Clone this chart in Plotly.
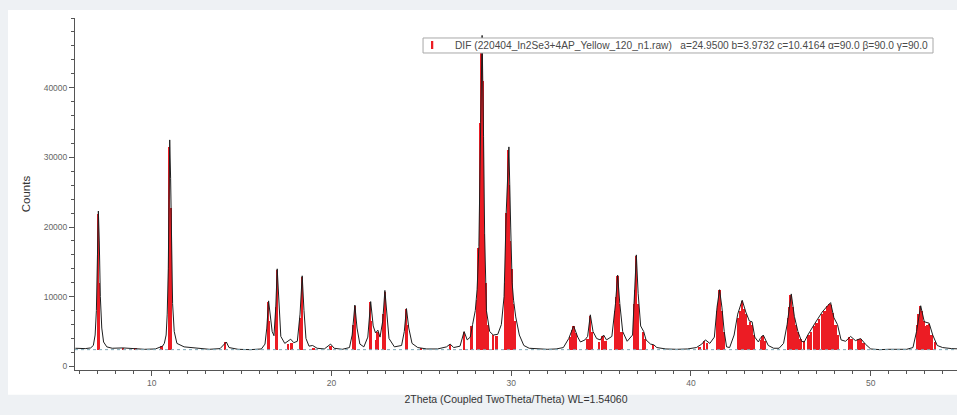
import plotly.graph_objects as go

# Measured diffraction pattern (2theta in degrees, counts)
two_theta = [
    5.75, 6.3, 6.6, 6.75, 6.85, 6.92, 6.98, 7.03, 7.08, 7.14, 7.22, 7.32, 7.5, 7.8, 8.4, 9.0, 9.6,
    10.2, 10.5, 10.6, 10.7, 10.8, 10.86, 10.92, 10.96, 11.0, 11.05, 11.1, 11.16, 11.25, 11.4, 11.8,
    12.5, 13.2, 13.8, 14.05, 14.15, 14.3, 14.8, 15.5, 16.1, 16.3, 16.4, 16.5, 16.6,
    16.7, 16.8, 16.9, 16.98, 17.07, 17.18, 17.4, 17.6, 17.73, 17.9, 18.1, 18.25,
    18.37, 18.47, 18.58, 18.75, 18.95, 19.2, 19.6, 19.95, 20.15, 20.6, 21.0, 21.15,
    21.3, 21.42, 21.58, 21.8, 22.02, 22.18, 22.32, 22.45, 22.58, 22.7, 22.85, 22.97,
    23.07, 23.2, 23.5, 23.9, 24.05, 24.17, 24.3, 24.48, 24.8, 25.3, 25.9, 26.4,
    26.6, 26.8, 27.15, 27.38, 27.55, 27.72, 27.85, 28.0, 28.1, 28.2, 28.3, 28.38,
    28.46, 28.52, 28.62, 28.8, 29.0, 29.25, 29.45, 29.6, 29.72, 29.87, 29.97, 30.05,
    30.13, 30.25, 30.45, 30.7, 31.0, 31.5, 32.0, 32.5, 32.9, 33.2, 33.47, 33.7,
    33.85, 34.1, 34.25, 34.4, 34.55, 34.75, 34.95, 35.14, 35.3, 35.6, 35.8, 35.92,
    36.04, 36.2, 36.45, 36.75, 36.88, 36.96, 37.06, 37.2, 37.37, 37.5, 37.75, 37.93,
    38.1, 38.6, 39.2, 39.8, 40.3, 40.6, 40.8, 41.05, 41.3, 41.45, 41.59, 41.72,
    41.85, 41.98, 42.15, 42.4, 42.6, 42.85, 43.05, 43.25, 43.4, 43.55, 43.75, 43.85,
    44.02, 44.15, 44.3, 44.6, 44.9, 45.15, 45.35, 45.58, 45.75, 45.95, 46.15, 46.3,
    46.5, 46.9, 47.3, 47.6, 47.77, 47.95, 48.15, 48.35, 48.6, 48.88, 49.15, 49.44,
    49.7, 50.0, 50.5, 51.0, 51.5, 52.0, 52.35, 52.55, 52.78, 52.98, 53.25, 53.45,
    53.7, 54.0, 54.5, 55.0,
]
counts = [
    2600, 2550, 2650, 3000, 4500, 8000, 16000, 22300, 18000, 10000, 5500, 3500, 2800, 2600, 2650, 2500, 2450,
    2500, 2800, 2900, 3300, 4500, 7500, 14000, 24000, 32500, 27000, 17000, 9000, 5000, 3300, 2800,
    2600, 2450, 2550, 3300, 3500, 2700, 2450, 2400, 2500, 3200, 5500, 9400, 6800,
    5000, 4400, 8500, 14000, 8500, 4300, 3300, 3700, 3900, 3400, 3600, 7500,
    13000, 8000, 4000, 2900, 3000, 2600, 2500, 3200, 2600, 2450, 2700, 4500,
    8800, 5500, 3200, 2800, 4200, 9300, 5800, 4800, 5200, 4200, 6500, 10900,
    7500, 4000, 2800, 3000, 5000, 8300, 5500, 3300, 2700, 2500, 2500, 2800,
    3200, 2700, 2900, 5000, 3800, 4200, 6000, 8000, 11000, 17200, 35000, 47500,
    33000, 19000, 8000, 5000, 4500, 4600, 6000, 10000, 22000, 31500, 20000, 12000,
    9500, 7100, 4500, 3000, 2600, 2500, 2450, 2500, 2700, 4000, 5800, 4200,
    3500, 3800, 4300, 7400, 5000, 4000, 3800, 4500, 3800, 4300, 9000, 13100,
    9000, 5000, 3600, 4500, 11000, 16000, 10500, 5800, 5000, 3800, 3200, 3100,
    2700, 2500, 2450, 2500, 2700, 3200, 3800, 3300, 4200, 8500, 11000, 8500,
    5000, 2800, 2700, 4500, 7500, 9500, 7800, 6500, 6400, 4200, 3500, 4000,
    4500, 3800, 3000, 2600, 2600, 3300, 6000, 10400, 7200, 5000, 3600, 3500,
    4500, 6200, 7800, 8700, 9150, 7000, 6000, 3800, 3600, 4300, 3700, 4000,
    3200, 2500, 2400, 2450, 2500, 2450, 2700, 5000, 8700, 6400, 6200, 4500,
    3000, 2700, 2550, 2500,
]

# Reference pattern lines (DIF card), position and scaled intensity
stick_2theta = [
    7.02, 7.08, 8.4, 9.1, 10.55, 10.98, 11.05, 14.1,
    16.48, 16.55, 16.93, 16.99, 17.6, 17.8, 18.3, 18.36, 19.0, 19.95,
    21.25, 21.31, 22.15, 22.22, 22.5, 22.58, 22.92, 22.98, 24.15, 24.21, 25.0, 26.6,
    27.38, 27.8, 28.12, 28.2, 28.28, 28.35, 28.42, 28.5, 28.58, 28.7, 29.0, 29.2,
    29.68, 29.75, 29.82, 29.88, 29.95, 30.02, 30.1, 30.2,
    33.3, 33.4, 33.47, 33.6, 34.25, 34.4, 34.5, 34.9, 35.1, 35.25,
    35.8, 35.86, 35.92, 36.0, 36.15, 36.85, 36.9, 36.96, 37.05, 37.35, 37.45, 37.9,
    40.5, 40.75, 40.9, 41.45, 41.52, 41.6, 41.7, 41.85,
    42.65, 42.75, 42.85, 42.95, 43.05, 43.15, 43.3, 43.4, 43.5, 43.9, 44.0, 44.1,
    45.4, 45.48, 45.56, 45.65, 45.75, 45.85, 45.95, 46.1, 46.3,
    46.55, 46.7, 46.85, 47.0, 47.15, 47.3, 47.45, 47.6, 47.72, 47.8, 47.9, 48.05, 48.2,
    48.8, 48.95, 49.3, 49.45, 49.6,
    52.6, 52.68, 52.76, 52.85, 52.95, 53.05, 53.15, 53.25, 53.4, 53.6,
]
stick_counts = [
    21800, 12000, 2700, 2600, 2900, 31500, 22700, 3500,
    9300, 6500, 8500, 13900, 3200, 3400, 7000, 12900, 2700, 2900,
    6000, 8700, 9200, 6500, 3800, 5000, 7500, 10700, 8200, 6000, 2600, 3100,
    4900, 5800, 9500, 17000, 35000, 47000, 41000, 19000, 12000, 6000, 4500, 4400,
    12000, 22000, 31000, 26000, 18000, 14000, 9000, 6500,
    4200, 5200, 5800, 4800, 4000, 7300, 5000, 3500, 4400, 3600,
    8000, 10000, 13000, 9000, 5000, 9000, 11000, 15800, 9000, 4900, 4000, 3000,
    2800, 3700, 3400, 8000, 9000, 10900, 8000, 5000,
    7000, 8000, 9400, 8300, 7500, 6000, 6300, 6000, 4500, 3800, 4400, 3600,
    7000, 8500, 10200, 8500, 7000, 6000, 5000, 4000, 3600,
    4500, 5000, 5800, 6200, 6800, 7500, 8000, 8600, 9000, 8800, 7600, 6000, 4500,
    4200, 4000, 3900, 4000, 3300,
    6000, 7500, 8600, 8000, 6500, 5800, 6000, 6100, 4500, 3500,
]
background_level = 2400

legend_text = ("DIF (220404_In2Se3+4AP_Yellow_120_n1.raw)\u00a0\u00a0\u00a0a=24.9500 b=3.9732 "
               "c=10.4164 \u03b1=90.0 \u03b2=90.0 \u03b3=90.0")

fig = go.Figure()

fig.add_trace(go.Bar(
    x=stick_2theta,
    y=[c - background_level for c in stick_counts],
    base=background_level,
    width=0.11,
    marker=dict(color="#ec1c24", line=dict(width=0)),
    showlegend=False,
))

fig.add_trace(go.Scatter(
    x=two_theta, y=counts, mode="lines",
    line=dict(color="#1e1e1e", width=1),
    showlegend=False, hoverinfo="skip",
))

# dotted background line
fig.add_shape(type="line", xref="paper", x0=0, x1=1, yref="y",
              y0=background_level, y1=background_level,
              line=dict(color="#7fa9b8", width=1, dash="dot"), layer="above")

# white chart panel on the grey page
fig.add_shape(type="rect", xref="paper", yref="paper",
              x0=-0.076, x1=1.01, y0=-0.07, y1=1.023,
              fillcolor="white", line=dict(width=0), layer="below")

# pattern key box with its red line marker
fig.add_shape(type="rect", xref="paper", yref="paper",
              x0=0.3946, x1=0.9728, y0=0.9006, y1=0.9432,
              fillcolor="white", line=dict(color="#a8a8a8", width=1), layer="above")
fig.add_shape(type="rect", xref="paper", yref="paper",
              x0=0.4036, x1=0.4062, y0=0.9119, y1=0.9347,
              fillcolor="#ec1c24", line=dict(width=0), layer="above")
fig.add_annotation(xref="paper", yref="paper", x=0.4286, y=0.9219,
                   xanchor="left", yanchor="middle", showarrow=False,
                   text=legend_text,
                   font=dict(family="Liberation Sans, Arial, sans-serif", size=10.2, color="#4a4a4a"))

axis_font = dict(family="Liberation Sans, Arial, sans-serif", size=8.5, color="#666666")

fig.update_layout(
    width=957, height=415,
    margin=dict(l=75, r=0, t=18, b=45),
    paper_bgcolor="#eef1f4",
    plot_bgcolor="white",
    bargap=0,
    barmode="overlay",
    font=dict(family="Liberation Sans, Arial, sans-serif"),
    showlegend=False,
    xaxis=dict(
        range=[5.73, 54.8],
        tickvals=[10, 20, 30, 40, 50],
        ticks="outside", ticklen=5, tickcolor="#555555",
        minor=dict(dtick=1, ticklen=3, ticks="outside", tickcolor="#555555", showgrid=False),
        showline=True, linecolor="#555555", linewidth=1,
        showgrid=False, zeroline=False,
        tickfont=axis_font,
        title=dict(text="2Theta (Coupled TwoTheta/Theta) WL=1.54060",
                   font=dict(size=10.5, color="#333333"), standoff=8),
    ),
    yaxis=dict(
        range=[-520, 50000],
        tickvals=[0, 10000, 20000, 30000, 40000],
        tickformat="d",
        ticks="outside", ticklen=5, tickcolor="#555555",
        minor=dict(dtick=2000, ticklen=3, ticks="outside", tickcolor="#555555", showgrid=False),
        showline=True, linecolor="#555555", linewidth=1,
        showgrid=False, zeroline=False,
        tickfont=axis_font,
        title=dict(text="Counts", font=dict(size=11.5, color="#333333"), standoff=10),
    ),
)

fig.write_html("out.html")
